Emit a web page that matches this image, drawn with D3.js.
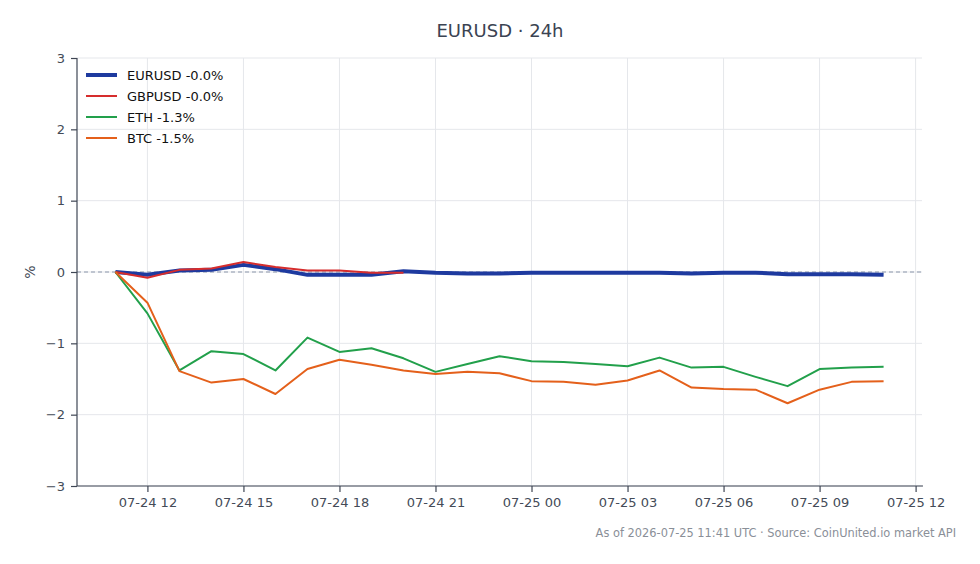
<!DOCTYPE html>
<meta charset="utf-8">
<style>
body { margin: 0; background: #fff; font-family: "DejaVu Sans", sans-serif; }
.grid line { stroke: #e5e7eb; stroke-width: 1; }
.axis path, .axis line { stroke: #3f4654; stroke-width: 1.2; fill: none; }
.axis text { fill: #444b57; font-size: 13px; font-family: "DejaVu Sans", sans-serif; }
</style>
<body>
<script src="https://d3js.org/d3.v7.min.js"></script>
<script>

// hourly points, 07-24 11:00 .. 07-25 11:00 UTC
var startTime = new Date(Date.UTC(2026, 6, 24, 11));

var eurusd = [0, -0.04, 0.02, 0.03, 0.10, 0.04, -0.04, -0.04, -0.04, 0.01, -0.01, -0.02, -0.02,
              -0.01, -0.01, -0.01, -0.01, -0.01, -0.02, -0.01, -0.01, -0.03, -0.03, -0.03, -0.04];
var gbpusd = [0, -0.08, 0.03, 0.05, 0.14, 0.07, 0.02, 0.02, -0.01, -0.01];
var eth = [0, -0.58, -1.38, -1.11, -1.15, -1.38, -0.92, -1.12, -1.07, -1.21, -1.40, -1.29, -1.18,
           -1.25, -1.26, -1.29, -1.32, -1.20, -1.34, -1.33, -1.47, -1.60, -1.36, -1.34, -1.33];
var btc = [0, -0.43, -1.39, -1.55, -1.50, -1.71, -1.36, -1.23, -1.30, -1.38, -1.43, -1.40, -1.42,
           -1.53, -1.54, -1.58, -1.52, -1.38, -1.62, -1.64, -1.65, -1.84, -1.65, -1.54, -1.53];

var seriesNames = ["EURUSD -0.0%", "GBPUSD -0.0%", "ETH -1.3%", "BTC -1.5%"];
var seriesValues = [eurusd, gbpusd, eth, btc];
var seriesColors = ["#1e3a9f", "#d62d2d", "#22a04b", "#e4601b"];
var seriesWidths = [4, 2, 2, 2];

var yTicks = [-3, -2, -1, 0, 1, 2, 3];

var margin = { left: 77, right: 58, top: 58, bottom: 78 };
var W = 980, H = 564;
var width = W - margin.left - margin.right,
    height = H - margin.top - margin.bottom;

var svg = d3.select("body").append("svg")
    .attr("width", W)
    .attr("height", H);

var g = svg.append("g")
    .attr("transform", "translate(" + margin.left + "," + margin.top + ")");

function timeAt(h) { return new Date(startTime.getTime() + h * 3600000); }

// 5% padding on both sides of the 24h data range
var x = d3.scaleUtc()
    .domain([timeAt(-1.2), timeAt(25.2)])
    .range([0, width]);

var y = d3.scaleLinear()
    .domain([-3, 3])
    .range([height, 0]);

var xTicks = d3.range(9).map(function(i) { return timeAt(1 + i * 3); });

// grid
g.append("g").attr("class", "grid")
    .selectAll("line").data(xTicks).enter().append("line")
    .attr("x1", function(d) { return x(d); })
    .attr("x2", function(d) { return x(d); })
    .attr("y1", 0).attr("y2", height);

g.append("g").attr("class", "grid")
    .selectAll("line").data(yTicks).enter().append("line")
    .attr("x1", 0).attr("x2", width)
    .attr("y1", function(d) { return y(d); })
    .attr("y2", function(d) { return y(d); });

// zero line
g.append("line")
    .attr("x1", 0).attr("x2", width)
    .attr("y1", y(0)).attr("y2", y(0))
    .attr("stroke", "#8c97ab")
    .attr("stroke-width", 1)
    .attr("stroke-dasharray", "4,3");

// axes
g.append("g").attr("class", "axis")
    .attr("transform", "translate(0," + height + ")")
    .call(d3.axisBottom(x).tickValues(xTicks).tickSize(6).tickPadding(6)
        .tickFormat(d3.utcFormat("%m-%d %H")))
    .call(function(a) { a.select(".domain").attr("d", "M0,0H" + (width + 1)); });

g.append("g").attr("class", "axis")
    .call(d3.axisLeft(y).tickValues(yTicks).tickSize(6).tickPadding(6)
        .tickFormat(function(d) { return d < 0 ? "\u2212" + Math.abs(d) : d; }))
    .call(function(a) { a.select(".domain").attr("d", "M0,0V" + height); });

// y label
g.append("text")
    .attr("transform", "translate(" + (-42) + "," + y(0) + ") rotate(-90)")
    .attr("text-anchor", "middle")
    .attr("fill", "#444b57")
    .attr("font-size", "14px")
    .text("%");

// lines
var line = d3.line()
    .x(function(d, i) { return x(timeAt(i)); })
    .y(function(d) { return y(d); });

seriesValues.forEach(function(vals, k) {
    g.append("path")
        .datum(vals)
        .attr("fill", "none")
        .attr("stroke", seriesColors[k])
        .attr("stroke-width", seriesWidths[k])
        .attr("stroke-linejoin", "round")
        .attr("d", line);
});

// legend
var legend = g.append("g").attr("transform", "translate(9,17)");
seriesNames.forEach(function(name, k) {
    var row = legend.append("g").attr("transform", "translate(0," + (k * 21) + ")");
    row.append("line")
        .attr("x1", 0).attr("x2", 31)
        .attr("stroke", seriesColors[k])
        .attr("stroke-width", seriesWidths[k]);
    row.append("text")
        .attr("x", 41).attr("y", 4.5)
        .attr("font-size", "13px")
        .attr("fill", "#111")
        .text(name);
});

// title
svg.append("text")
    .attr("x", 500).attr("y", 37)
    .attr("text-anchor", "middle")
    .attr("font-size", "18px")
    .attr("fill", "#3b4352")
    .text("EURUSD \u00b7 24h");

// footer
svg.append("text")
    .attr("x", 956).attr("y", 537)
    .attr("text-anchor", "end")
    .attr("font-size", "11.4px")
    .attr("fill", "#8a8f98")
    .text("As of 2026-07-25 11:41 UTC \u00b7 Source: CoinUnited.io market API");

</script>
</body>
